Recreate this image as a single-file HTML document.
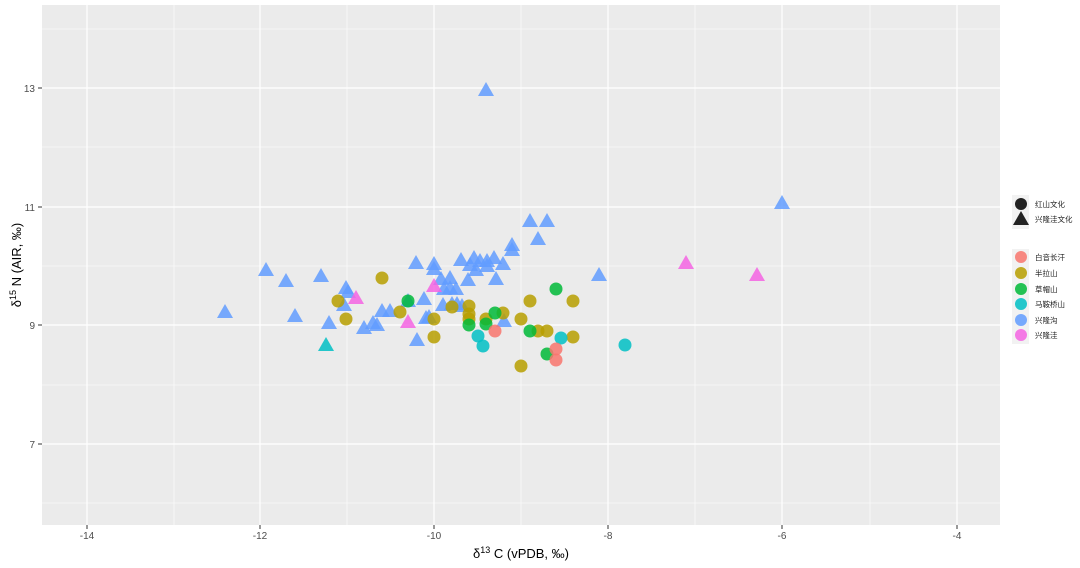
<!DOCTYPE html>
<html><head><meta charset="utf-8"><style>body{margin:0;background:#fff}svg{display:block}</style></head><body>
<svg width="1080" height="568" xmlns="http://www.w3.org/2000/svg" font-family="Liberation Sans, Noto Sans CJK SC, sans-serif">
<rect x="42" y="5" width="958" height="520" fill="#EBEBEB"/>
<g stroke="#fff" stroke-width="0.6">
<line x1="174" y1="5" x2="174" y2="525"/><line x1="347" y1="5" x2="347" y2="525"/><line x1="521" y1="5" x2="521" y2="525"/><line x1="695" y1="5" x2="695" y2="525"/><line x1="870" y1="5" x2="870" y2="525"/>
<line x1="42" y1="29" x2="1000" y2="29"/><line x1="42" y1="147" x2="1000" y2="147"/><line x1="42" y1="266" x2="1000" y2="266"/><line x1="42" y1="385" x2="1000" y2="385"/><line x1="42" y1="503" x2="1000" y2="503"/>
</g>
<g stroke="#fff" stroke-width="1.2">
<line x1="87" y1="5" x2="87" y2="525"/><line x1="260" y1="5" x2="260" y2="525"/><line x1="434" y1="5" x2="434" y2="525"/><line x1="608" y1="5" x2="608" y2="525"/><line x1="782" y1="5" x2="782" y2="525"/><line x1="957" y1="5" x2="957" y2="525"/>
<line x1="42" y1="88" x2="1000" y2="88"/><line x1="42" y1="207" x2="1000" y2="207"/><line x1="42" y1="325" x2="1000" y2="325"/><line x1="42" y1="444" x2="1000" y2="444"/>
</g>
<g stroke="#333" stroke-width="1">
<line x1="87" y1="525" x2="87" y2="529"/><line x1="260" y1="525" x2="260" y2="529"/><line x1="434" y1="525" x2="434" y2="529"/><line x1="608" y1="525" x2="608" y2="529"/><line x1="782" y1="525" x2="782" y2="529"/><line x1="957" y1="525" x2="957" y2="529"/>
<line x1="38" y1="88" x2="42" y2="88"/><line x1="38" y1="207" x2="42" y2="207"/><line x1="38" y1="325" x2="42" y2="325"/><line x1="38" y1="444" x2="42" y2="444"/>
</g>
<g font-size="10" fill="#4D4D4D" text-anchor="middle">
<text x="87" y="539">-14</text><text x="260" y="539">-12</text><text x="434" y="539">-10</text><text x="608" y="539">-8</text><text x="782" y="539">-6</text><text x="957" y="539">-4</text>
</g>
<g font-size="10" fill="#4D4D4D" text-anchor="end">
<text x="35" y="92">13</text><text x="35" y="211">11</text><text x="35" y="329">9</text><text x="35" y="448">7</text>
</g>
<text x="521" y="558" font-size="13" text-anchor="middle">δ<tspan font-size="9" dy="-5">13</tspan><tspan dy="5"> C (vPDB, ‰)</tspan></text>
<text transform="translate(21,265) rotate(-90)" font-size="13" text-anchor="middle">δ<tspan font-size="9" dy="-5">15</tspan><tspan dy="5"> N (AIR, ‰)</tspan></text>
<defs><path id="t" d="M0,-9 L8,5 L-8,5 Z"/></defs>
<g fill="#619CFF" fill-opacity="0.85">
<use href="#t" x="225" y="313"/><use href="#t" x="266" y="271"/><use href="#t" x="295" y="317"/><use href="#t" x="286" y="282"/><use href="#t" x="321" y="277"/><use href="#t" x="329" y="324"/><use href="#t" x="346" y="289"/><use href="#t" x="348" y="293"/><use href="#t" x="364" y="329"/><use href="#t" x="373" y="324"/><use href="#t" x="382" y="312"/><use href="#t" x="390" y="312"/><use href="#t" x="416" y="264"/><use href="#t" x="417" y="341"/><use href="#t" x="424" y="300"/><use href="#t" x="426" y="319"/><use href="#t" x="434" y="265"/><use href="#t" x="434" y="270"/><use href="#t" x="441" y="280"/><use href="#t" x="443" y="306"/><use href="#t" x="450" y="289"/><use href="#t" x="450" y="279"/><use href="#t" x="456" y="290"/><use href="#t" x="461" y="261"/><use href="#t" x="468" y="281"/><use href="#t" x="474" y="259"/><use href="#t" x="476" y="271"/><use href="#t" x="480" y="262"/><use href="#t" x="487" y="262"/><use href="#t" x="452" y="305"/><use href="#t" x="486" y="91"/><use href="#t" x="494" y="259"/><use href="#t" x="496" y="280"/><use href="#t" x="504" y="322"/><use href="#t" x="512" y="246"/><use href="#t" x="512" y="251"/><use href="#t" x="530" y="222"/><use href="#t" x="538" y="240"/><use href="#t" x="547" y="222"/><use href="#t" x="599" y="276"/><use href="#t" x="782" y="204"/><use href="#t" x="429" y="318"/><use href="#t" x="444" y="290"/><use href="#t" x="462" y="307"/><use href="#t" x="470" y="266"/><use href="#t" x="503" y="265"/><use href="#t" x="487" y="267"/><use href="#t" x="457" y="305"/><use href="#t" x="377" y="326"/><use href="#t" x="408" y="302"/><use href="#t" x="344" y="306"/>
</g>
<g fill="#00BFC4" fill-opacity="0.85"><use href="#t" x="326" y="346"/></g>
<g fill="#F564E3" fill-opacity="0.85"><use href="#t" x="356" y="299"/><use href="#t" x="408" y="323"/><use href="#t" x="434" y="287"/><use href="#t" x="686" y="264"/><use href="#t" x="757" y="276"/></g>
<g fill="#B79F00" fill-opacity="0.85">
<circle cx="338" cy="301" r="6.5"/><circle cx="346" cy="319" r="6.5"/><circle cx="382" cy="278" r="6.5"/><circle cx="400" cy="312" r="6.5"/><circle cx="434" cy="319" r="6.5"/><circle cx="434" cy="337" r="6.5"/><circle cx="452" cy="307" r="6.5"/><circle cx="469" cy="306" r="6.5"/><circle cx="469" cy="314" r="6.5"/><circle cx="469" cy="319" r="6.5"/><circle cx="486" cy="319" r="6.5"/><circle cx="503" cy="313" r="6.5"/><circle cx="521" cy="366" r="6.5"/><circle cx="521" cy="319" r="6.5"/><circle cx="530" cy="301" r="6.5"/><circle cx="538" cy="331" r="6.5"/><circle cx="547" cy="331" r="6.5"/><circle cx="573" cy="301" r="6.5"/><circle cx="573" cy="337" r="6.5"/>
</g>
<g fill="#00BA38" fill-opacity="0.85">
<circle cx="408" cy="301" r="6.5"/><circle cx="469" cy="325" r="6.5"/><circle cx="486" cy="324" r="6.5"/><circle cx="495" cy="313" r="6.5"/><circle cx="530" cy="331" r="6.5"/><circle cx="547" cy="354" r="6.5"/><circle cx="556" cy="289" r="6.5"/>
</g>
<g fill="#00BFC4" fill-opacity="0.85"><circle cx="478" cy="336" r="6.5"/><circle cx="483" cy="346" r="6.5"/><circle cx="561" cy="338" r="6.5"/><circle cx="625" cy="345" r="6.5"/></g>
<g fill="#F8766D" fill-opacity="0.85"><circle cx="495" cy="331" r="6.5"/><circle cx="556" cy="349" r="6.5"/><circle cx="556" cy="360" r="6.5"/></g>
<rect x="1012" y="195" width="17" height="34" fill="#F2F2F2"/>
<circle cx="1021" cy="204" r="6" fill="#222"/>
<path d="M1021,211 L1029,225 L1013,225 Z" fill="#222"/>
<g font-size="7.5" fill="#222"><text x="1035" y="207">红山文化</text><text x="1035" y="222">兴隆洼文化</text></g>
<rect x="1012" y="249" width="17" height="95" fill="#F2F2F2"/>
<g fill-opacity="0.85">
<circle cx="1021" cy="257" r="6" fill="#F8766D"/><circle cx="1021" cy="273" r="6" fill="#B79F00"/><circle cx="1021" cy="289" r="6" fill="#00BA38"/><circle cx="1021" cy="304" r="6" fill="#00BFC4"/><circle cx="1021" cy="320" r="6" fill="#619CFF"/><circle cx="1021" cy="335" r="6" fill="#F564E3"/>
</g>
<g font-size="7.5" fill="#222"><text x="1035" y="260">白音长汗</text><text x="1035" y="276">半拉山</text><text x="1035" y="292">草帽山</text><text x="1035" y="307">马鞍桥山</text><text x="1035" y="323">兴隆沟</text><text x="1035" y="338">兴隆洼</text></g>
</svg>
</body></html>
